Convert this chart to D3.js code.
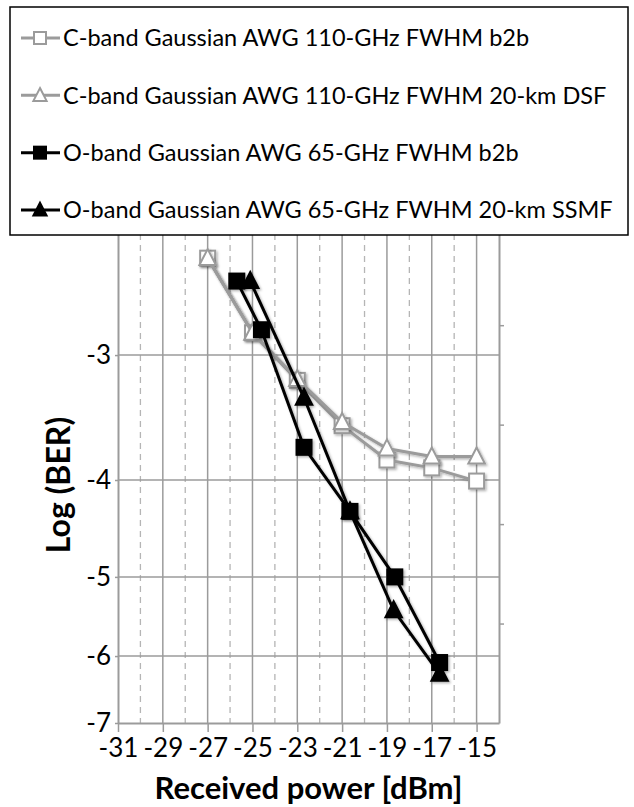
<!DOCTYPE html>
<html>
<head>
<meta charset="utf-8">
<script src="https://cdn.jsdelivr.net/npm/d3@7"></script>
<style>
  body { margin: 0; background: #fff; }
  text { font-family: Lato, "Open Sans", sans-serif; }
</style>
</head>
<body>
<div id="chart"></div>
<script>
// Data
var xTicks = [-31, -29, -27, -25, -23, -21, -19, -17, -15];
var xMinor = [-30, -28, -26, -24, -22, -20, -18, -16];
var yTicks = [-3, -4, -5, -6, -7];

var cB2bX = [-27, -25, -23, -21, -19, -17, -15];
var cB2bY = [-2.40, -2.85, -3.18, -3.53, -3.82, -3.89, -4.01];

var cDsfX = [-27, -25, -23, -21, -19, -17, -15];
var cDsfY = [-2.40, -2.85, -3.17, -3.50, -3.72, -3.79, -3.79];

var oB2bX = [-25.7, -24.6, -22.7, -20.65, -18.65, -16.65];
var oB2bY = [-2.53, -2.83, -3.71, -4.30, -5.00, -6.09];

var oSsmfX = [-25.1, -22.7, -20.65, -18.7, -16.65];
var oSsmfY = [-2.53, -3.31, -4.30, -5.40, -6.25];

var seriesNames = [
  "C-band Gaussian AWG 110-GHz FWHM b2b",
  "C-band Gaussian AWG 110-GHz FWHM 20-km DSF",
  "O-band Gaussian AWG 65-GHz FWHM b2b",
  "O-band Gaussian AWG 65-GHz FWHM 20-km SSMF"
];

// Dimensions (plot area)
var w = 634, h = 807;
var pLeft = 118, pRight = 499, pTop = 179, pBottom = 723;
var gray = "#9b9b9b";

var series = [
  { name: seriesNames[0], xs: cB2bX, ys: cB2bY, color: gray, fill: "#fff", shape: "square" },
  { name: seriesNames[1], xs: cDsfX, ys: cDsfY, color: gray, fill: "#fff", shape: "triangle" },
  { name: seriesNames[2], xs: oB2bX, ys: oB2bY, color: "#000", fill: "#000", shape: "square" },
  { name: seriesNames[3], xs: oSsmfX, ys: oSsmfY, color: "#000", fill: "#000", shape: "triangle" }
];

// Scales: y axis is log(-log BER)
var xScale = d3.scaleLinear().domain([-31, -14]).range([pLeft, pRight]);
var yLog = d3.scaleLog().domain([2, 7]).range([pTop, pBottom]);
var yScale = function (v) { return yLog(-v); };
var yRight = d3.scaleLinear().domain([0, 5.47]).range([pBottom, pTop]);

var svg = d3.select("#chart").append("svg")
    .attr("width", w)
    .attr("height", h);

var defs = svg.append("defs");
var shadow = defs.append("filter").attr("id", "shadow")
    .attr("x", "-20%").attr("y", "-20%").attr("width", "140%").attr("height", "140%");
shadow.append("feDropShadow")
    .attr("dx", 1.5).attr("dy", 1.5).attr("stdDeviation", 1.2)
    .attr("flood-color", "#000").attr("flood-opacity", 0.3);

// Grid
var grid = svg.append("g");
grid.selectAll(".vminor").data(xMinor).enter().append("line")
    .attr("x1", function (d) { return xScale(d); })
    .attr("x2", function (d) { return xScale(d); })
    .attr("y1", pTop).attr("y2", pBottom)
    .attr("stroke", "#b5b5b5").attr("stroke-width", 1.3)
    .attr("stroke-dasharray", "6,5");
grid.selectAll(".vmajor").data(xTicks.slice(1)).enter().append("line")
    .attr("x1", function (d) { return xScale(d); })
    .attr("x2", function (d) { return xScale(d); })
    .attr("y1", pTop).attr("y2", pBottom)
    .attr("stroke", gray).attr("stroke-width", 1.5);
grid.selectAll(".hmajor").data(yTicks.slice(0, 4)).enter().append("line")
    .attr("x1", pLeft).attr("x2", pRight)
    .attr("y1", function (d) { return yScale(d); })
    .attr("y2", function (d) { return yScale(d); })
    .attr("stroke", gray).attr("stroke-width", 1.5);

// Axes
var xAxis = d3.axisBottom(xScale).tickValues(xTicks).tickSize(9).tickSizeOuter(0)
    .tickFormat(function (d) { return "-" + Math.abs(d); });
var gx = svg.append("g")
    .attr("transform", "translate(0," + pBottom + ")")
    .call(xAxis);
gx.select(".domain").attr("stroke", gray).attr("stroke-width", 2);
gx.selectAll(".tick line").attr("stroke", gray).attr("stroke-width", 1.5);
gx.selectAll(".tick text").attr("fill", "#000").attr("font-size", 26).attr("y", 16);

var yAxis = d3.axisLeft(yLog).tickValues(yTicks.map(function (d) { return -d; }))
    .tickSize(3).tickSizeOuter(0)
    .tickFormat(function (d) { return "-" + d; });
var gy = svg.append("g")
    .attr("transform", "translate(" + pLeft + ",0)")
    .call(yAxis);
gy.select(".domain").attr("stroke", gray).attr("stroke-width", 2);
gy.selectAll(".tick line").attr("stroke", gray).attr("stroke-width", 1.5);
gy.selectAll(".tick text").attr("fill", "#000").attr("font-size", 26).attr("x", -7);

var yAxisR = d3.axisRight(yRight).tickValues([1, 2, 3, 4, 5]).tickSize(5).tickSizeOuter(0)
    .tickFormat("");
var gr = svg.append("g")
    .attr("transform", "translate(" + pRight + ",0)")
    .call(yAxisR);
gr.select(".domain").attr("stroke", gray).attr("stroke-width", 2);
gr.selectAll(".tick line").attr("stroke", gray).attr("stroke-width", 1.5);

// Axis titles
svg.append("text")
    .attr("x", (pLeft + pRight) / 2).attr("y", 799)
    .attr("text-anchor", "middle")
    .attr("font-size", 31).attr("font-weight", "bold")
    .text("Received power [dBm]");
svg.append("text")
    .attr("transform", "translate(70,485) rotate(-90)")
    .attr("text-anchor", "middle")
    .attr("font-size", 32).attr("font-weight", "bold")
    .text("Log (BER)");

// Marker helper
function marker(g, shape, size, color, fill) {
  if (shape === "square") {
    g.append("rect")
        .attr("x", -size / 2).attr("y", -size / 2)
        .attr("width", size).attr("height", size)
        .attr("fill", fill).attr("stroke", color).attr("stroke-width", 2);
  } else {
    var s = size * 1.1;
    g.append("path")
        .attr("d", "M0," + (-s * 0.55) + "L" + (s / 2) + "," + (s * 0.42) + "L" + (-s / 2) + "," + (s * 0.42) + "Z")
        .attr("fill", fill).attr("stroke", color).attr("stroke-width", 2);
  }
}

// Series
var line = d3.line()
    .x(function (d) { return xScale(d[0]); })
    .y(function (d) { return yScale(d[1]); });

series.forEach(function (s) {
  var pts = d3.zip(s.xs, s.ys);
  var g = svg.append("g").attr("filter", "url(#shadow)");
  g.append("path")
      .datum(pts)
      .attr("d", line)
      .attr("fill", "none")
      .attr("stroke", s.color)
      .attr("stroke-width", 3);
  g.selectAll(".pt").data(pts).enter().append("g")
      .attr("transform", function (d) { return "translate(" + xScale(d[0]) + "," + yScale(d[1]) + ")"; })
      .each(function () { marker(d3.select(this), s.shape, 15, s.color, s.fill); });
});

// Legend
var legend = svg.append("g");
legend.append("rect")
    .attr("x", 10).attr("y", 7).attr("width", 618).attr("height", 228)
    .attr("fill", "#fff").attr("stroke", "#000").attr("stroke-width", 1.5);
var rowY = d3.scalePoint().domain(d3.range(series.length)).range([38, 210]);
series.forEach(function (s, i) {
  var ry = rowY(i);
  legend.append("line")
      .attr("x1", 21).attr("x2", 60).attr("y1", ry).attr("y2", ry)
      .attr("stroke", s.color).attr("stroke-width", 3);
  var m = legend.append("g").attr("transform", "translate(40," + ry + ")");
  marker(m, s.shape, 12, s.color, s.fill);
  legend.append("text")
      .attr("x", 63).attr("y", ry)
      .attr("dy", "0.35em")
      .attr("font-size", 23.5)
      .text(s.name);
});
</script>
</body>
</html>
